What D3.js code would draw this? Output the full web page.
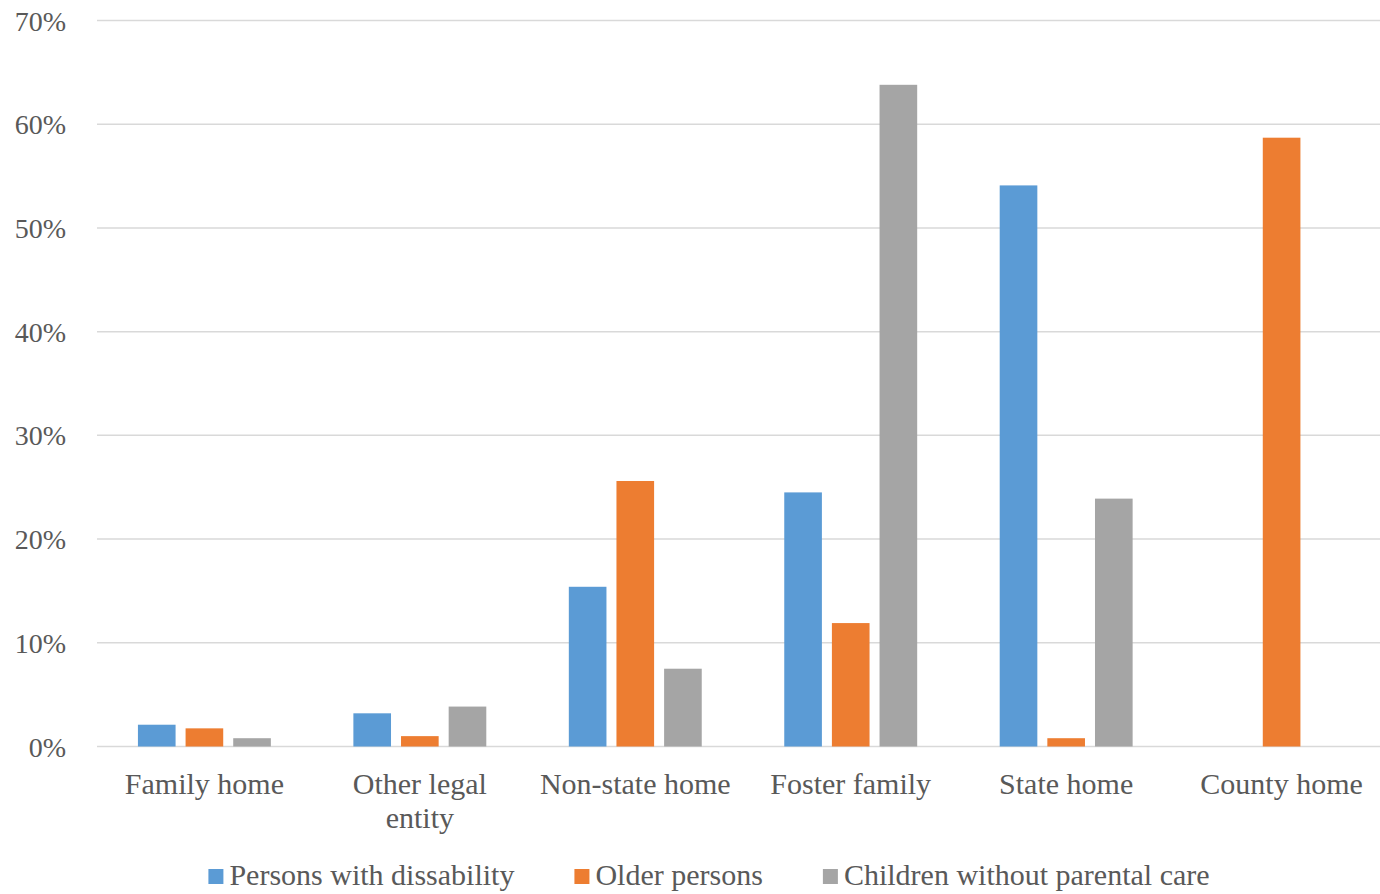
<!DOCTYPE html>
<html>
<head>
<meta charset="utf-8">
<script src="https://cdn.jsdelivr.net/npm/d3@7"></script>
<style>
  body { margin: 0; background: #fff; }
  text { font-family: "Liberation Serif", "Times New Roman", serif; fill: #595959; }
</style>
</head>
<body>
<svg id="chart" width="1380" height="894"></svg>
<script>
var categories = [["Family home"], ["Other legal", "entity"], ["Non-state home"], ["Foster family"], ["State home"], ["County home"]]
var seriesNames = ["Persons with dissability", "Older persons", "Children without parental care"]
var disability = [0.021, 0.032, 0.154, 0.245, 0.541, 0]
var older = [0.0175, 0.010, 0.256, 0.119, 0.008, 0.587]
var children = [0.008, 0.0385, 0.075, 0.638, 0.239, 0]
var yTicks = [0, 0.1, 0.2, 0.3, 0.4, 0.5, 0.6, 0.7]
var colors = ["#5B9BD5", "#ED7D31", "#A5A5A5"]

var values = [disability, older, children]
var svg = d3.select("#chart")
var plotLeft = 97, plotRight = 1380, plotTop = 20.5, plotBottom = 746.5

// the category axis runs a little past the right edge of the picture
var x = d3.scaleBand().domain(d3.range(categories.length)).range([plotLeft, 1389])
    .paddingInner(0.383).paddingOuter(0.19)
var xs = d3.scaleBand().domain(d3.range(seriesNames.length)).range([0, x.bandwidth()]).paddingInner(0.21)
var y = d3.scaleLinear().domain([0, 0.7]).range([plotBottom, plotTop])

// grid lines
svg.append("g").selectAll("line").data(yTicks).join("line")
    .attr("x1", plotLeft).attr("x2", plotRight)
    .attr("y1", function(d) { return y(d) }).attr("y2", function(d) { return y(d) })
    .attr("stroke", "#D9D9D9").attr("stroke-width", 1.5)

svg.append("g").selectAll("text").data(yTicks).join("text")
    .attr("x", 66).attr("y", function(d) { return y(d) + 10 })
    .attr("text-anchor", "end").attr("font-size", 28)
    .text(function(d) { return Math.round(d * 100) + "%" })

// bars
var groups = svg.append("g").selectAll("g").data(d3.range(categories.length)).join("g")
    .attr("transform", function(i) { return "translate(" + x(i) + ",0)" })
groups.selectAll("rect").data(function(i) {
        return values.map(function(s, k) { return {k: k, v: s[i]} })
    }).join("rect")
    .attr("x", function(d) { return xs(d.k) })
    .attr("width", xs.bandwidth())
    .attr("y", function(d) { return y(d.v) })
    .attr("height", function(d) { return plotBottom - y(d.v) })
    .attr("fill", function(d) { return colors[d.k] })

// category labels
var labels = svg.append("g").selectAll("text").data(categories).join("text")
    .attr("text-anchor", "middle").attr("font-size", 30)
    .attr("transform", function(d, i) { return "translate(" + (x(i) + x.bandwidth() / 2) + ",794)" })
labels.selectAll("tspan").data(function(d) { return d }).join("tspan")
    .attr("x", 0).attr("y", function(d, j) { return j * 34 })
    .text(function(d) { return d })

// legend
var legend = svg.append("g")
var pos = 0
seriesNames.forEach(function(name, k) {
    var item = legend.append("g").attr("transform", "translate(" + pos + ",0)")
    item.append("rect").attr("x", 0).attr("y", -16).attr("width", 15).attr("height", 15).attr("fill", colors[k])
    var t = item.append("text").attr("x", 21).attr("y", 0).attr("font-size", 30).text(name)
    pos += 21 + t.node().getComputedTextLength() + 60
})
var total = pos - 60
legend.attr("transform", "translate(" + (709 - total / 2) + ",885)")
</script>
</body>
</html>
